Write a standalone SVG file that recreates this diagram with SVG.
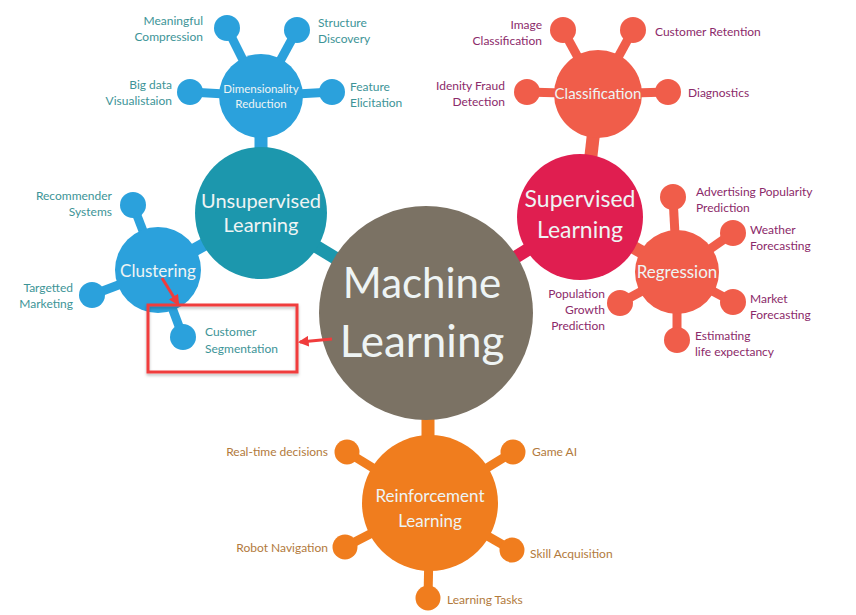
<svg xmlns="http://www.w3.org/2000/svg" width="856" height="615" viewBox="0 0 856 615">
<defs>
<style>
text{font-family:Lato,"Open Sans","DejaVu Sans",sans-serif;}
.w{fill:#eef4f4;text-anchor:middle;}
.lb{fill:#3d9497;font-size:12px;}
.lr{fill:#8c2a6a;font-size:12px;}
.lo{fill:#b27a3c;font-size:12px;}
.e{text-anchor:end;}
.stB{stroke:#2ba1dc;}
.stR{stroke:#f05d4a;}
.stO{stroke:#f07d1e;}
.s{stroke-width:9;fill:none;}
.m{stroke-width:13;fill:none;}
.cB{fill:#2ba1dc;}
.cR{fill:#f05d4a;}
.cO{fill:#f07d1e;}
.red{stroke:#f03c3c;stroke-width:3;fill:none;}
</style>
<marker id="ah" viewBox="0 0 10 10" refX="8" refY="5" markerWidth="3.6" markerHeight="3.6" orient="auto" markerUnits="strokeWidth">
<path d="M0,0 L10,5 L0,10 Z" fill="#f03c3c"/>
</marker>
<filter id="sh" x="-10%" y="-10%" width="120%" height="130%"><feDropShadow dx="0" dy="2" stdDeviation="1.5" flood-color="#000" flood-opacity="0.25"/></filter>
</defs>
<rect width="856" height="615" fill="#ffffff"/>
<g id="connectors">
<line class="m" x1="261" y1="213" x2="426" y2="313" stroke="#1c97ad"/>
<line class="m" x1="580" y1="217" x2="426" y2="313" stroke="#e01e50"/>
<line class="m" x1="428" y1="313" x2="428" y2="503" stroke="#f07d1e"/>
<line class="m" x1="261" y1="96" x2="261" y2="213" stroke="#2ba1dc"/>
<line class="m" x1="158" y1="270" x2="261" y2="213" stroke="#2ba1dc"/>
<line class="m" x1="598" y1="94" x2="584" y2="217" stroke="#f05d4a"/>
<line class="m" x1="677" y1="272" x2="580" y2="217" stroke="#f05d4a"/>
<g class="s stB">
<line x1="261" y1="96" x2="227" y2="28"/>
<line x1="261" y1="96" x2="297" y2="30"/>
<line x1="261" y1="96" x2="190" y2="92"/>
<line x1="261" y1="96" x2="332" y2="92"/>
<line x1="158" y1="270" x2="133" y2="205"/>
<line x1="158" y1="270" x2="92" y2="295"/>
<line x1="158" y1="270" x2="183" y2="337"/>
</g>
<g class="s stR">
<line x1="598" y1="94" x2="563" y2="30"/>
<line x1="598" y1="94" x2="633" y2="30"/>
<line x1="598" y1="94" x2="527" y2="92"/>
<line x1="598" y1="94" x2="668" y2="92"/>
<line x1="677" y1="272" x2="673" y2="197"/>
<line x1="677" y1="272" x2="733" y2="233"/>
<line x1="677" y1="272" x2="733" y2="302"/>
<line x1="677" y1="272" x2="677" y2="340"/>
<line x1="677" y1="272" x2="620" y2="303"/>
</g>
<g class="s stO">
<line x1="430" y1="503" x2="347" y2="452"/>
<line x1="430" y1="503" x2="513" y2="452"/>
<line x1="430" y1="503" x2="345" y2="547"/>
<line x1="430" y1="503" x2="512" y2="550"/>
<line x1="430" y1="503" x2="428" y2="598"/>
</g>
</g>
<g id="machine-learning">
<circle cx="426" cy="313" r="107" fill="#7b7264"/>
<text class="w" x="422" y="298" font-size="42">Machine</text>
<text class="w" x="422" y="357" font-size="44">Learning</text>
</g>
<g id="unsupervised-learning">
<circle cx="261" cy="213" r="66" fill="#1c97ad"/>
<text class="w" x="261" y="208" font-size="20">Unsupervised</text>
<text class="w" x="261" y="232" font-size="20">Learning</text>
</g>
<g id="dimensionality-reduction">
<circle class="cB" cx="261" cy="96" r="42"/>
<text class="w" x="261" y="93" font-size="11.5">Dimensionality</text>
<text class="w" x="261" y="108" font-size="11.5">Reduction</text>
</g>
<g id="meaningful-compression">
<circle class="cB" cx="227" cy="28" r="13"/>
<text class="lb e" x="203" y="25">Meaningful</text>
<text class="lb e" x="203" y="41">Compression</text>
</g>
<g id="structure-discovery">
<circle class="cB" cx="297" cy="30" r="13"/>
<text class="lb" x="318" y="27">Structure</text>
<text class="lb" x="318" y="43">Discovery</text>
</g>
<g id="big-data">
<circle class="cB" cx="190" cy="92" r="13"/>
<text class="lb e" x="172" y="89">Big data</text>
<text class="lb e" x="172" y="105">Visualistaion</text>
</g>
<g id="feature-elicitation">
<circle class="cB" cx="332" cy="92" r="13"/>
<text class="lb" x="350" y="91">Feature</text>
<text class="lb" x="350" y="107">Elicitation</text>
</g>
<g id="clustering">
<circle class="cB" cx="158" cy="270" r="43"/>
<text class="w" x="158" y="277" font-size="17">Clustering</text>
</g>
<g id="recommender-systems">
<circle class="cB" cx="133" cy="205" r="13"/>
<text class="lb e" x="112" y="200">Recommender</text>
<text class="lb e" x="112" y="216">Systems</text>
</g>
<g id="targetted-marketing">
<circle class="cB" cx="92" cy="295" r="13"/>
<text class="lb e" x="73" y="292">Targetted</text>
<text class="lb e" x="73" y="308">Marketing</text>
</g>
<g id="customer-segmentation">
<circle class="cB" cx="183" cy="337" r="13"/>
<text class="lb" x="205" y="336">Customer</text>
<text class="lb" x="205" y="353">Segmentation</text>
</g>
<g id="supervised-learning">
<circle cx="580" cy="217" r="63" fill="#e01e50"/>
<text class="w" x="580" y="207" font-size="23">Supervised</text>
<text class="w" x="580" y="238" font-size="23">Learning</text>
</g>
<g id="classification">
<circle class="cR" cx="598" cy="94" r="44"/>
<text class="w" x="598" y="99" font-size="15">Classification</text>
</g>
<g id="image-classification">
<circle class="cR" cx="563" cy="30" r="13"/>
<text class="lr e" x="542" y="29">Image</text>
<text class="lr e" x="542" y="45">Classification</text>
</g>
<g id="customer-retention">
<circle class="cR" cx="633" cy="30" r="13"/>
<text class="lr" x="655" y="36">Customer Retention</text>
</g>
<g id="identity-fraud-detection">
<circle class="cR" cx="527" cy="92" r="13"/>
<text class="lr e" x="505" y="90">Idenity Fraud</text>
<text class="lr e" x="505" y="106">Detection</text>
</g>
<g id="diagnostics">
<circle class="cR" cx="668" cy="92" r="13"/>
<text class="lr" x="688" y="97">Diagnostics</text>
</g>
<g id="regression">
<circle class="cR" cx="677" cy="272" r="42"/>
<text class="w" x="677" y="278" font-size="17">Regression</text>
</g>
<g id="advertising-popularity">
<circle class="cR" cx="673" cy="197" r="13"/>
<text class="lr" x="696" y="196">Advertising Popularity</text>
<text class="lr" x="696" y="212">Prediction</text>
</g>
<g id="weather-forecasting">
<circle class="cR" cx="733" cy="233" r="13"/>
<text class="lr" x="750" y="234">Weather</text>
<text class="lr" x="750" y="250">Forecasting</text>
</g>
<g id="market-forecasting">
<circle class="cR" cx="733" cy="302" r="13"/>
<text class="lr" x="750" y="303">Market</text>
<text class="lr" x="750" y="319">Forecasting</text>
</g>
<g id="estimating-life-expectancy">
<circle class="cR" cx="677" cy="340" r="13"/>
<text class="lr" x="695" y="340">Estimating</text>
<text class="lr" x="695" y="356">life expectancy</text>
</g>
<g id="population-growth">
<circle class="cR" cx="620" cy="303" r="13"/>
<text class="lr e" x="605" y="298">Population</text>
<text class="lr e" x="605" y="314">Growth</text>
<text class="lr e" x="605" y="330">Prediction</text>
</g>
<g id="reinforcement-learning">
<circle cx="430" cy="503" r="68" fill="#f07d1e"/>
<text class="w" x="430" y="502" font-size="17">Reinforcement</text>
<text class="w" x="430" y="527" font-size="17">Learning</text>
</g>
<g id="real-time-decisions">
<circle class="cO" cx="347" cy="452" r="12.5"/>
<text class="lo e" x="328" y="456">Real-time decisions</text>
</g>
<g id="game-ai">
<circle class="cO" cx="513" cy="452" r="12.5"/>
<text class="lo" x="532" y="456">Game AI</text>
</g>
<g id="robot-navigation">
<circle class="cO" cx="345" cy="547" r="12.5"/>
<text class="lo e" x="328" y="552">Robot Navigation</text>
</g>
<g id="skill-acquisition">
<circle class="cO" cx="512" cy="550" r="12.5"/>
<text class="lo" x="530" y="558">Skill Acquisition</text>
</g>
<g id="learning-tasks">
<circle class="cO" cx="428" cy="598" r="12.5"/>
<text class="lo" x="447" y="604">Learning Tasks</text>
</g>
<g id="highlight">
<rect x="148" y="305" width="149" height="67" class="red" filter="url(#sh)"/>
<line x1="332" y1="339" x2="300" y2="342" class="red" marker-end="url(#ah)"/>
<line x1="162" y1="278" x2="178" y2="304" class="red" marker-end="url(#ah)"/>
</g>
</svg>
